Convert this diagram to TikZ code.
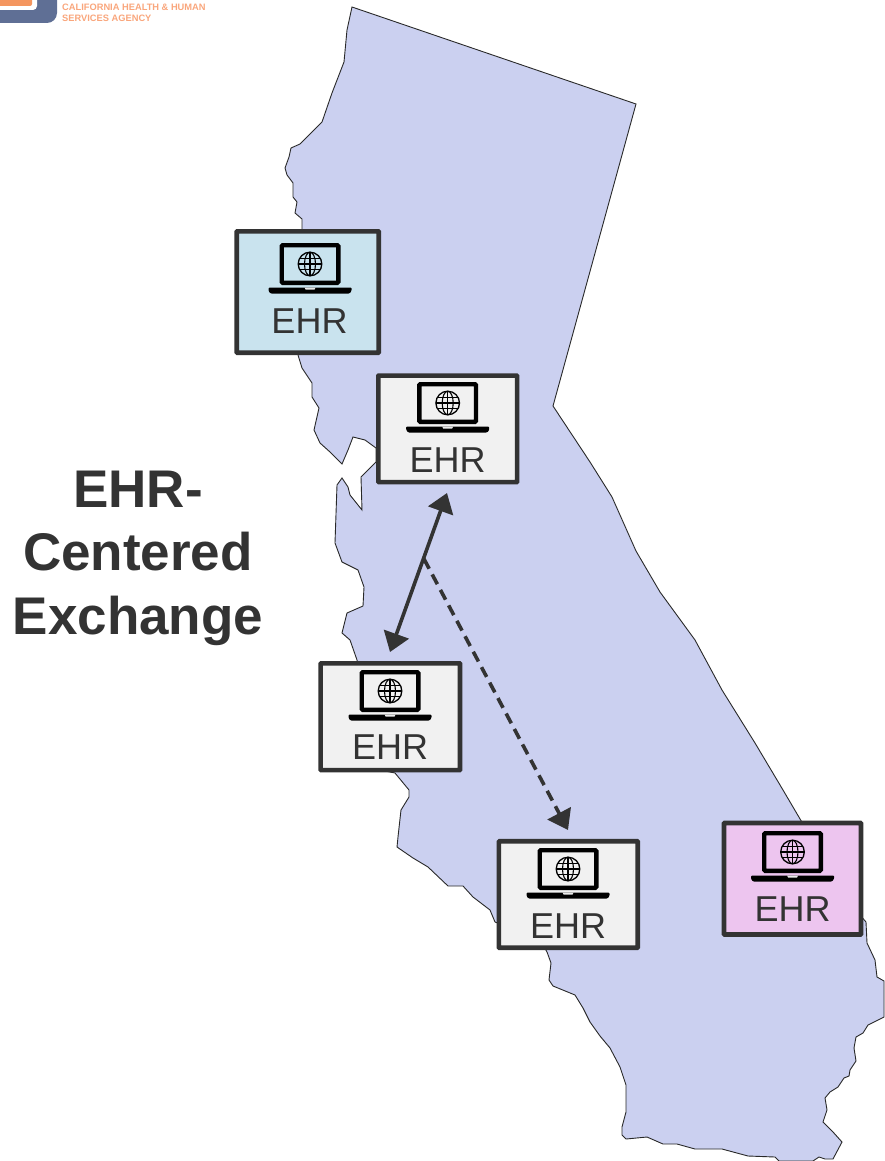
\documentclass[tikz,border=0pt]{standalone}
\usepackage{fontspec}
\setmainfont{Liberation Sans}
\usetikzlibrary{arrows.meta}
\definecolor{ca}{HTML}{CBD0F0}
\definecolor{ink}{HTML}{333333}
\definecolor{blueb}{HTML}{C9E3EE}
\definecolor{greyb}{HTML}{F1F1F1}
\definecolor{pinkb}{HTML}{EDC5EF}
\definecolor{logob}{HTML}{5F6F95}
\definecolor{logoo}{HTML}{F4965F}
\definecolor{logot}{HTML}{F9A67C}
\tikzset{x=1pt,y=-1pt,
  ehrbox/.style={draw=ink,line width=4.6pt,rounded corners=0.6pt,minimum width=#1,inner sep=0pt},
  ehrtext/.style={text=ink,font=\fontsize{36}{38}\selectfont,inner sep=0pt},
  link/.style={draw=ink,line width=3.6pt,{Triangle[length=19pt,width=26pt]}-{Triangle[length=19pt,width=26pt]}},
  dlink/.style={draw=ink,line width=3.6pt,dash pattern=on 11pt off 6.5pt,-{Triangle[length=19pt,width=26pt]}},
  title/.style={text=ink,font=\fontsize{53}{63.5}\bfseries\selectfont,align=center,inner sep=0pt}
}
\newcommand{\laptop}[2]{%
  \begin{scope}[shift={(#1,#2)}]
    \draw[black,line width=4.4pt,rounded corners=1pt] (-28.3,2.2) rectangle (28.3,39.8);
    \fill[black,rounded corners=1pt] (-41.5,44.5) -- (41.5,44.5) -- (41.5,48) -- (39.5,50.5) -- (-39.5,50.5) -- (-41.5,48) -- cycle;
    \fill[white!92!black] (-5.5,44.5) -- (5.5,44.5) -- (4.5,46.5) -- (-4.5,46.5) -- cycle;
    \draw[black,line width=1.3pt] (0,21) circle (11.8);
    \draw[black,line width=1.1pt] (0,21) ellipse (5.5 and 11.8);
    \draw[black,line width=1.1pt] (0,9.2) -- (0,32.8);
    \draw[black,line width=1.1pt] (-11.8,21) -- (11.8,21);
    \draw[black,line width=1.1pt] (-10,15.5) -- (10,15.5);
    \draw[black,line width=1.1pt] (-10,26.5) -- (10,26.5);
  \end{scope}}
\begin{document}
\begin{tikzpicture}
\useasboundingbox (0,0) rectangle (884,1161);
% state
\draw[fill=ca,draw=ink!80!black,line width=0.9pt]
 (352,7) -- (636,104) -- (553,406) -- (590,462) -- (612,497) -- (636,551) -- (660,592) -- (695,640) -- (722,690) -- (755,743) -- (783,790) -- (803,824)
 -- (860,915) -- (866,922) -- (867,943) -- (875,960) -- (877,977) -- (884,981) -- (884,1017)
 -- (868,1025) -- (863,1033) -- (856,1037) -- (854,1048) -- (856,1061) -- (850,1070) -- (849,1076) -- (844,1078) -- (838,1087) -- (830,1092) -- (825,1098) -- (827,1110) -- (823,1122) -- (833,1132) -- (842,1142) -- (833,1159) -- (825,1159) -- (819,1157) -- (813,1161)
 -- (779,1161) -- (775,1157) -- (748,1156) -- (722,1149) -- (695,1149) -- (677,1144) -- (663,1144) -- (647,1137) -- (626,1139) -- (622,1135) -- (622,1127) -- (626,1112) -- (626,1085) -- (620,1067) -- (610,1048) -- (600,1036) -- (590,1022) -- (583,1008) -- (575,995) -- (553,986) -- (549,980) -- (551,963) -- (547,952)
 -- (540,940) -- (495,922) -- (490,910) -- (473,897) -- (463,886) -- (448,886) -- (428,867) -- (413,858) -- (397,847) -- (398,837) -- (401,810) -- (409,797) -- (409,790) -- (395,773)
 -- (380,770) -- (357,660) -- (350,640) -- (342,633) -- (347,613) -- (363,606) -- (364,587) -- (358,570) -- (342,562) -- (335,543) -- (337,485) -- (342,478) -- (348,487) -- (350,495) -- (362,510) -- (361,477) -- (376,462)
 -- (376,448) -- (365,440) -- (353,437) -- (348,450) -- (342,464) -- (330,452) -- (320,443) -- (314,430) -- (319,408) -- (312,397) -- (312,383) -- (302,368) -- (298,355)
 -- (302,230) -- (302,219) -- (295,213) -- (297,202) -- (293,197) -- (293,183) -- (287,175) -- (285,168) -- (289,157) -- (291,148) -- (300,144) -- (322,122) -- (332,93) -- (344,62) -- (347,30) -- cycle;
% logo
\fill[logob,rounded corners=10pt] (-20,-20) rectangle (57,23);
\fill[white,rounded corners=4pt] (-20,-20) rectangle (37,10);
\fill[logoo,rounded corners=2pt] (-20,-20) rectangle (32,6);
\node[anchor=west,text=logot,inner sep=0pt,font=\fontsize{9.3}{11}\bfseries\selectfont,align=left] (agency) at (62,12.5) {CALIFORNIA HEALTH \& HUMAN\\SERVICES AGENCY};
% boxes
\node[ehrbox=142pt,minimum height=121.4pt,fill=blueb] (e1) at (307.7,292) {};
\node[ehrbox=138.8pt,minimum height=106.5pt,fill=greyb] (e2) at (447.7,428.8) {};
\node[ehrbox=139.4pt,minimum height=106.8pt,fill=greyb] (e3) at (390.3,716.7) {};
\node[ehrbox=138.8pt,minimum height=106.5pt,fill=greyb] (e4) at (568.3,894.5) {};
\node[ehrbox=137pt,minimum height=111.5pt,fill=pinkb] (e5) at (792.5,878.7) {};
\laptop{310}{243}
\laptop{447.7}{382}
\laptop{390}{670}
\laptop{568}{848}
\laptop{792.5}{831}
\node[ehrtext] (t1) at (309.5,321) {EHR};
\node[ehrtext] (t2) at (447.5,460) {EHR};
\node[ehrtext] (t3) at (390,747) {EHR};
\node[ehrtext] (t4) at (568,926) {EHR};
\node[ehrtext] (t5) at (792.5,909) {EHR};
% title
\node[title] (head) at (138,558) {EHR-\\Centered\\Exchange};
% connectors
\coordinate (au) at (447,493);
\coordinate (ad) at (390,652);
\coordinate (mid) at (424,559);
\coordinate (bd) at (568,830);
\draw[link] (ad) -- (au);
\draw[dlink] (mid) -- (bd);
\end{tikzpicture}
\end{document}
